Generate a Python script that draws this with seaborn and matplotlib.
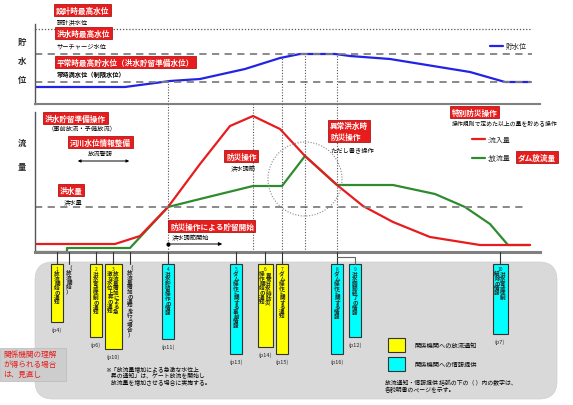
import math
import matplotlib
matplotlib.use("Agg")
import matplotlib.pyplot as plt
from matplotlib.patches import FancyBboxPatch, Rectangle, Circle
import numpy as np
import seaborn as sns

sns.set_style("white")
plt.rcParams["font.family"] = ["Noto Sans CJK JP", "DejaVu Sans"]

# --- data (time in arbitrary units) ---
level_t = [0, 18, 27, 33, 42, 49, 53, 60, 63, 71, 87, 94, 99]
level = [17, 17, 23, 25, 35, 46, 50, 50, 48, 45, 32, 22, 22]

inflow_t = [0, 16, 21, 26.6, 33, 39, 43.6, 49, 54, 60.4, 65.6, 71.6, 79, 89, 99]
inflow = [8, 8, 16, 45, 88, 126, 136, 123, 96, 67, 46, 30, 15, 7, 7]

outflow_t = [0, 6.4, 6.4, 19, 26.6, 33, 43.6, 49.4, 54, 60.4, 71.6, 80, 86, 91, 94.6, 99]
outflow = [0, 0, 4, 4, 45, 53, 66, 66, 96, 67, 67, 58, 45, 28, 7, 7]

design_level = 75
surcharge_level = 50
normal_level = 22
flood_flow = 45
event_times = [26.6, 43.6, 49.4, 54.0, 60.4]

box_labels = ["1.放流開始の通知", "2.洪水警戒体制の通知", "3.放流量増加による急激な水位上昇の通知",
              "4.洪水貯留操作の情報", "5.ダム操作に関する事前情報", "6.異常洪水時防災操作開始の通知",
              "7.ダム操作に関する通知", "8.ダム操作に関する情報", "9.洪水調節終了の情報",
              "10.洪水警戒体制解除の情報"]
box_pages = ["(p4)", "(p6)", "(p10)", "(p11)", "(p13)", "(p14)", "(p15)", "(p16)", "(p12)", "(p7)"]
box_kinds = ["notice", "notice", "notice", "info", "info", "notice", "notice", "info", "info", "info"]

# --- layout (pixels) ---
W, H = 573, 406
box_x = [57, 96, 113, 168, 236, 265, 282, 337, 355, 500]
box_w = [12, 12, 17, 12, 12, 15, 12, 12, 12, 15]
box_bottom = [323, 338, 350, 340, 355, 348, 355, 355, 338, 335]
box_cols = [1, 1, 2, 1, 1, 2, 1, 1, 1, 2]
kind_color = {"notice": "#ffff00", "info": "#00ffff"}

RED = "#e81c1c"
GREEN = "#2e8b2e"
BLUE = "#2323e6"
GRAY = "#808080"


def rect(l, t, r, b):
    return [l / W, 1 - b / H, (r - l) / W, (b - t) / H]


fig = plt.figure(figsize=(W / 100, H / 100), dpi=100)

# top panel: reservoir level
ax_top = fig.add_axes(rect(35, 20, 540, 105))
sns.lineplot(x=level_t, y=level, ax=ax_top, color=BLUE, lw=1.6, label="貯水位",
             estimator=None, sort=False)
ax_top.hlines(design_level, 0, 99.4, colors="#555555", linestyles=(0, (1, 1.5)), lw=0.9)
ax_top.hlines([surcharge_level, normal_level], 0, 99.4, colors=GRAY, linestyles=(0, (4, 3)), lw=1.3)
top_events = event_times[:1] + event_times[2:]
ax_top.vlines(top_events, 0, np.interp(top_events, level_t, level), colors="#555555",
              linestyles=(0, (1, 1.5)), lw=0.8)
ax_top.set_xlim(0, 101)
ax_top.set_ylim(0, 85)
ax_top.legend(loc="center left", bbox_to_anchor=(484 / W, 1 - 47 / H), bbox_transform=fig.transFigure,
              frameon=False, fontsize=5, handlelength=1.8, handletextpad=0.4)

# middle panel: inflow / outflow
ax_mid = fig.add_axes(rect(35, 105, 540, 253))
sns.lineplot(x=outflow_t, y=outflow, ax=ax_mid, color=GREEN, lw=1.6, label=":放流量",
             estimator=None, sort=False)
sns.lineplot(x=inflow_t, y=inflow, ax=ax_mid, color=RED, lw=1.6, label=":流入量",
             estimator=None, sort=False)
ax_mid.hlines(flood_flow, 0, 98, colors=GRAY, linestyles=(0, (4, 3)), lw=1.3)
ax_mid.vlines(event_times, 0, 148, colors="#555555", linestyles=(0, (1, 1.5)), lw=0.8)
ax_mid.set_xlim(0, 101)
ax_mid.set_ylim(0, 148)
h, l = ax_mid.get_legend_handles_labels()
ax_mid.legend(h[::-1], l[::-1], loc="center left", bbox_to_anchor=(466 / W, 1 - 150 / H),
              bbox_transform=fig.transFigure, frameon=False, fontsize=5, handlelength=1.8,
              handletextpad=0.4, labelspacing=1.5)

for ax, bnd, blw in [(ax_top, (0, 80), 1.5), (ax_mid, (0, 140), 2.2)]:
    ax.set_xticks([])
    ax.set_yticks([])
    ax.set_xlabel("")
    ax.set_ylabel("")
    ax.patch.set_alpha(0)
    for s in ["top", "right"]:
        ax.spines[s].set_visible(False)
    ax.spines["left"].set_bounds(*bnd)
    ax.spines["left"].set_color("#555555")
    ax.spines["left"].set_linewidth(1)
    ax.spines["bottom"].set_color(GRAY)
    ax.spines["bottom"].set_linewidth(blw)

# overlay in pixel coordinates for annotations
ov = fig.add_axes([0, 0, 1, 1])
ov.set_xlim(0, W)
ov.set_ylim(H, 0)
ov.axis("off")


def red_label(x, y, s, fs=5.5):
    ov.text(x, y, s, color="white", fontsize=fs, fontweight="bold", va="center", ha="left",
            bbox=dict(boxstyle="square,pad=0.2", fc=RED, ec="#a00000", lw=0.5))


def note(x, y, s, fs=4.5, **kw):
    ov.text(x, y, s, color="black", fontsize=fs, va="center", ha="left", **kw)


# axis captions
for ch, y in zip("貯水位", [42, 61, 80]):
    ov.text(22, y, ch, fontsize=6, fontweight="bold", ha="center", va="center")
for ch, y in zip("流量", [143, 168]):
    ov.text(22, y, ch, fontsize=6, fontweight="bold", ha="center", va="center")

red_label(56, 11, "設計時最高水位")
note(57, 22, "設計洪水位")
red_label(57, 34, "洪水時最高水位")
note(57, 46, "サーチャージ水位")
red_label(57, 63, "平常時最高貯水位（洪水貯留準備水位）")
note(57, 75, "常時満水位（制限水位）", fontweight="bold")

red_label(45, 119, "洪水貯留準備操作")
note(48, 128, "（事前放流・予備放流）")
red_label(70, 143, "河川水位情報整備")
note(88, 154, "放流警報")
ov.annotate("", xy=(132, 162), xytext=(75, 162),
            arrowprops=dict(arrowstyle="<|-|>", lw=0.7, color="black", mutation_scale=4))
red_label(60, 191, "洪水量")
note(64, 202, "洪水量")

red_label(170, 227, "防災操作による貯留開始")
note(172, 238, "洪水調節開始")
ov.annotate("", xy=(225, 245), xytext=(168, 245),
            arrowprops=dict(arrowstyle="-|>", lw=0.7, color="black", mutation_scale=5))
ov.plot([168], [245], "o", color="black", ms=2)

red_label(226, 157, "防災操作")
note(231, 169, "洪水調節")
red_label(330, 132, "異常洪水時\n防災操作", fs=5.5)
note(330, 150, "ただし書き操作")
red_label(452, 113, "特別防災操作")
note(452, 123, "操作規則で定めた以上の量を貯める操作", fs=4.2)
red_label(518, 158, "ダム放流量")

ov.add_patch(Circle((305, 180), 37, fill=False, ls=(0, (1, 1.5)), ec="#888888", lw=0.8))

# bottom gray panel
ov.add_patch(FancyBboxPatch((35, 263), 522, 137, boxstyle="round,pad=0,rounding_size=18",
                            fc="#d9d9d9", ec="#cfcfcf", lw=0.5, zorder=0))


def vtext(xc, ytop, s, ncols=1, fs=4, colw=6):
    if "." in s:
        head, body = s.split(".", 1)
        ov.text(xc, ytop + 2, head, ha="center", va="top", fontsize=fs - 0.5)
        ytop += 7
    else:
        body = s
    n = math.ceil(len(body) / ncols)
    cols = [body[i * n:(i + 1) * n] for i in range(ncols)]
    for i, c in enumerate(cols):
        x = xc + (ncols - 1) / 2 * colw - i * colw
        ov.text(x, ytop, "\n".join(c), ha="center", va="top", fontsize=fs,
                linespacing=0.92, fontweight="bold")


for lab, page, kind, x, w, b, nc in zip(box_labels, box_pages, box_kinds, box_x, box_w,
                                         box_bottom, box_cols):
    ov.add_patch(Rectangle((x - w / 2, 265), w, b - 265, fc=kind_color[kind], ec="#333333", lw=0.8))
    vtext(x, 265, lab, ncols=nc)
    ov.text(x, b + 7, page, ha="center", va="center", fontsize=4)
    if x != 355:
        ov.plot([x, x], [253, 265], color="#333333", lw=0.8)
ov.plot([337, 355, 355], [258, 258, 265], color="#666666", lw=0.8)

for x, s in [(69, "（放流開始）"), (130, "（放流量増加の通知を行う場合）")]:
    ov.plot([x, x], [253, 265], color="#333333", lw=0.8)
    vtext(x, 266, s)

# left remark
ov.add_patch(Rectangle((0, 349), 66, 33, fc="#cdcdcd", ec="#bbbbbb", lw=0.5))
for y, s in zip([355, 365, 375], ["関係機関の理解", "が得られる場合", "は、見直し"]):
    ov.text(3, y, s, color=RED, fontsize=5.5, va="center", ha="left")

note(105, 376, "※「放流量増加による急激な水位上\n　昇の通知」は、ゲート放流を開始し\n　放流量を増加させる場合に実施する。",
     fs=4.2, linespacing=1.1)

# legend of bottom panel
ov.add_patch(Rectangle((388, 339), 17, 14, fc=kind_color["notice"], ec="#333333", lw=0.8))
ov.add_patch(Rectangle((388, 358), 17, 14, fc=kind_color["info"], ec="#333333", lw=0.8))
note(414, 346, "関係機関への放流通知", fs=4.5)
note(414, 365, "関係機関への情報提供", fs=4.5)
note(385, 387, "放流通知・情報提供 括弧の下の（ ）内の数字は、\n各説明書のページを示す。", fs=4.2, linespacing=1.1)

fig.savefig("out.png", dpi=100)
